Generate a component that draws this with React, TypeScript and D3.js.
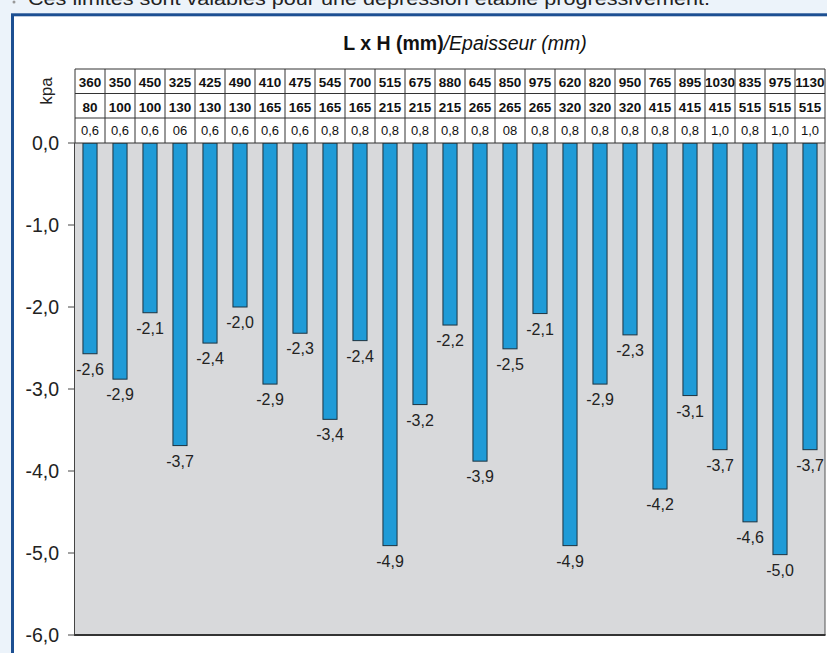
import React from "react";
import * as d3 from "d3";

const lengths = ["360","350","450","325","425","490","410","475","545","700","515","675","880","645","850","975","620","820","950","765","895","1030","835","975","1130"];
const heights = ["80","100","100","130","130","130","165","165","165","165","215","215","215","265","265","265","320","320","320","415","415","415","515","515","515"];
const thickness = ["0,6","0,6","0,6","06","0,6","0,6","0,6","0,6","0,8","0,8","0,8","0,8","0,8","0,8","08","0,8","0,8","0,8","0,8","0,8","0,8","1,0","0,8","1,0","1,0"];
const pressures = [-2.57,-2.88,-2.07,-3.69,-2.44,-2.0,-2.94,-2.32,-3.37,-2.41,-4.91,-3.19,-2.22,-3.88,-2.51,-2.08,-4.91,-2.94,-2.34,-4.22,-3.08,-3.74,-4.62,-5.02,-3.74];
const yTicks = [0,-1,-2,-3,-4,-5,-6];

const W = 827, H = 653;
const plotLeft = 75, plotRight = 825, plotTop = 143, plotBottom = 635;
const rowTops = [69, 93.5, 118, 143];

const fmt = (v: number) => d3.format(".1f")(v).replace(".", ",").replace("−", "-");

export default function App() {
  const idx = d3.range(pressures.length);
  const x = d3.scaleBand<number>().domain(idx).range([plotLeft, plotRight]).paddingInner(0.53).paddingOuter(0.265);
  const step = x.step();
  const y = d3.scaleLinear().domain([-6, 0]).range([plotBottom, plotTop]);
  const rows = [lengths, heights, thickness];
  const font = "'Liberation Sans', Arial, sans-serif";
  const cx = (i: number) => x(i)! + x.bandwidth() / 2;

  return (
    <svg width={W} height={H} style={{ position: "absolute", left: 0, top: 0 }} fontFamily={font}>
      <rect x={0} y={0} width={W} height={H} fill="#ecf3fa" />
      <circle cx={14} cy={2} r={1.5} fill="#999" />
      <text x={28} y={5} fontSize={19} fill="#222" textLength={682} lengthAdjust="spacingAndGlyphs">
        Ces limites sont valables pour une dépression établie progressivement.
      </text>
      <rect x={12.5} y={14.8} width={W + 20} height={H + 20} fill="#ffffff" stroke="#1c4f92" strokeWidth={3} />

      {/* title */}
      <text x={465} y={50} textAnchor="middle" fontSize={19.5} fill="#111">
        <tspan fontWeight="bold">L x H (mm)</tspan>
        <tspan fontStyle="italic">/Epaisseur (mm)</tspan>
      </text>

      {/* y label */}
      <text transform={`translate(52,91) rotate(-90)`} textAnchor="middle" fontSize={17} fill="#222">kpa</text>

      {/* plot background */}
      <rect x={plotLeft} y={plotTop} width={plotRight - plotLeft} height={plotBottom - plotTop} fill="#d8d9db" />

      {/* bars */}
      {pressures.map((v, i) => (
        <rect key={i} x={x(i)!} y={y(0)} width={x.bandwidth()} height={y(v) - y(0)} fill="#1f9bd7" stroke="#1d3340" strokeWidth={1} />
      ))}
      {pressures.map((v, i) => (
        <text key={"l" + i} x={cx(i)} y={y(v) + 21} textAnchor="middle" fontSize={16} fill="#222">
          {fmt(v)}
        </text>
      ))}

      {/* axes frame */}
      <line x1={plotLeft - 0.5} x2={plotLeft - 0.5} y1={plotTop} y2={plotBottom} stroke="#444" strokeWidth={1} />
      <line x1={plotRight} x2={plotRight} y1={plotTop} y2={plotBottom} stroke="#555" strokeWidth={1} />
      <line x1={plotLeft - 1} x2={plotRight + 0.5} y1={plotBottom} y2={plotBottom} stroke="#333" strokeWidth={2} />

      {yTicks.map((t) => (
        <g key={"t" + t}>
          <line x1={plotLeft - 7} x2={plotLeft} y1={y(t)} y2={y(t)} stroke="#444" strokeWidth={1} />
          <text x={59} y={y(t) + 7} textAnchor="end" fontSize={19.5} fill="#222">
            {fmt(t)}
          </text>
        </g>
      ))}

      {/* table */}
      <rect x={plotLeft} y={rowTops[0]} width={plotRight - plotLeft} height={rowTops[3] - rowTops[0]} fill="#ffffff" />
      {rows.map((row, r) =>
        row.map((s, i) => (
          <text
            key={`c${r}-${i}`}
            x={cx(i)}
            y={rowTops[r] + (r === 2 ? 16.5 : 18)}
            textAnchor="middle"
            fontSize={r === 2 ? 13 : 13.5}
            fontWeight={r === 2 ? "normal" : "bold"}
            fill="#111"
          >
            {s}
          </text>
        ))
      )}
      {rowTops.map((ty, r) => (
        <line key={"h" + r} x1={plotLeft} x2={plotRight} y1={ty} y2={ty} stroke="#333" strokeWidth={1} />
      ))}
      {d3.range(pressures.length + 1).map((i) => (
        <line key={"v" + i} x1={plotLeft + i * step} x2={plotLeft + i * step} y1={rowTops[0]} y2={rowTops[3]} stroke="#333" strokeWidth={1} />
      ))}
    </svg>
  );
}
